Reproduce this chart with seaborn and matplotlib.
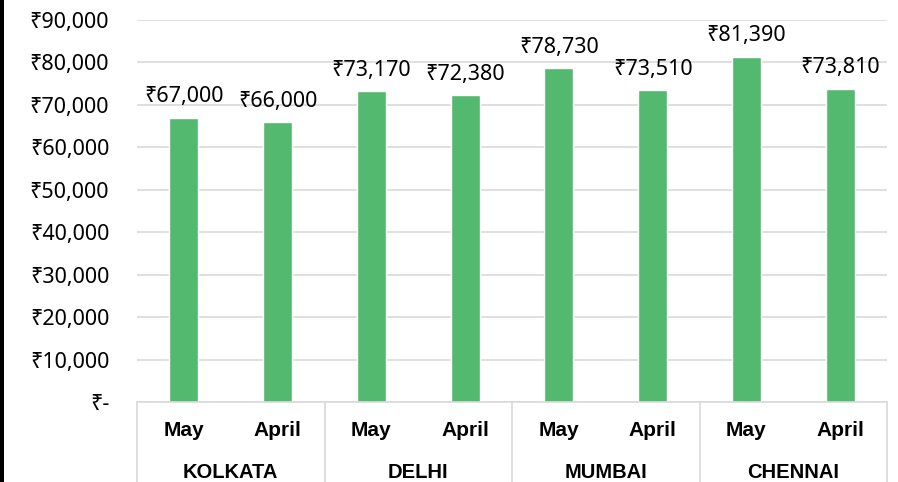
import matplotlib
matplotlib.use("Agg")
import matplotlib.pyplot as plt
import matplotlib.transforms as mtransforms
from matplotlib.patches import Rectangle
from matplotlib.lines import Line2D
import seaborn as sns
import pandas as pd

cities = ["KOLKATA", "DELHI", "MUMBAI", "CHENNAI"]
months = ["May", "April"]
values = [67000, 66000, 73170, 72380, 78730, 73510, 81390, 73810]
yticks = [0, 10000, 20000, 30000, 40000, 50000, 60000, 70000, 80000, 90000]

sns.set_theme(style="white")
FAM = ["Noto Sans", "DejaVu Sans"]
BOLDFAM = ["Liberation Sans", "DejaVu Sans"]
plt.rcParams["font.family"] = FAM

rows = []
i = 0
for c in cities:
    for m in months:
        rows.append({"key": f"{c}|{m}", "city": c, "month": m, "value": values[i]})
        i += 1
df = pd.DataFrame(rows)

W, H = 898, 482
fig = plt.figure(figsize=(W / 100, H / 100), dpi=100)
ax = fig.add_axes([137 / W, (H - 402) / H, 750 / W, 382 / H])

GREEN = "#53B96F"
sns.barplot(data=df, x="key", y="value", color=GREEN, width=0.31,
            saturation=1, ax=ax, order=df["key"].tolist())

ax.set_xlim(-0.5, len(values) - 0.5)
ax.set_ylim(0, 90000)
ax.set_yticks(yticks)
ax.set_yticklabels(["₹-" if v == 0 else f"₹{v:,}" for v in yticks])
ax.tick_params(axis="y", length=0, pad=20, labelsize=15.5, labelcolor="black")
ax.set_xticks([])
ax.set_xlabel("")
ax.set_ylabel("")
for s in ax.spines.values():
    s.set_visible(False)
ax.grid(axis="y", color="#D9D9D9", linewidth=1.2)
ax.set_axisbelow(True)

# data labels
for j, v in enumerate(values):
    ax.annotate(f"₹{v:,}", (j, v), xytext=(0, 11), textcoords="offset points",
                ha="center", va="baseline", fontsize=15.5, color="black")

# category axis (two-level)
trans = mtransforms.blended_transform_factory(ax.transData, ax.transAxes)
ax.add_line(Line2D([-0.5, len(values) - 0.5], [0, 0], transform=trans,
                   color="#D9D9D9", linewidth=1.2, clip_on=False))
for k in range(len(cities) + 1):
    xb = -0.5 + 2 * k
    ax.add_line(Line2D([xb, xb], [0, -0.22], transform=trans,
                       color="#D9D9D9", linewidth=1.2, clip_on=False))
for j, r in df.iterrows():
    ax.text(j, -29 / 382, r["month"], transform=trans, ha="center", va="center",
            fontsize=15, fontweight="bold", color="black", family=BOLDFAM)
for k, c in enumerate(cities):
    ax.text(2 * k + 0.5, -70 / 382, c, transform=trans, ha="center", va="center",
            fontsize=14.5, fontweight="bold", color="black", family=BOLDFAM)

# left black strip
fig.add_artist(Rectangle((0, 0), 4 / W, 1, transform=fig.transFigure,
                         facecolor="black", edgecolor="none"))

fig.savefig("out.png", dpi=100)
